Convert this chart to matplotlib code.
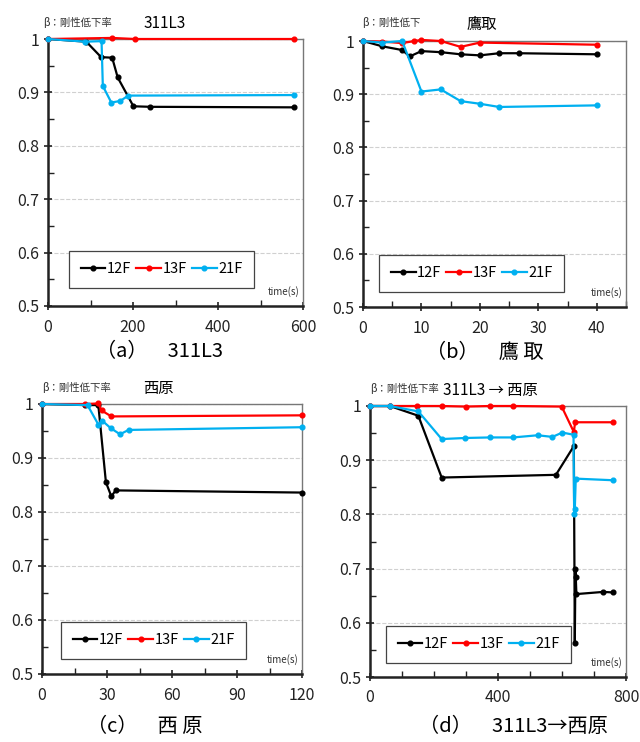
import matplotlib
matplotlib.use('Agg')
import matplotlib.pyplot as plt
from matplotlib.ticker import MultipleLocator

plt.rcParams['font.family'] = ['Noto Sans CJK JP', 'DejaVu Sans']

# (a) 311L3
a_t12 = [0, 90, 125, 151, 164, 201, 241, 578]
a_b12 = [1.0, 0.995, 0.966, 0.965, 0.928, 0.874, 0.873, 0.872]
a_t13 = [0, 151, 205, 578]
a_b13 = [1.0, 1.002, 1.0, 1.0]
a_t21 = [0, 88, 126, 129, 149, 170, 189, 578]
a_b21 = [1.0, 0.995, 0.996, 0.912, 0.881, 0.884, 0.894, 0.895]

# (b) 鷹取
b_t12 = [0, 3.3, 6.7, 8.0, 10, 13.3, 16.7, 20, 23.3, 26.7, 40]
b_b12 = [1.0, 0.990, 0.983, 0.971, 0.981, 0.979, 0.975, 0.973, 0.977, 0.977, 0.975]
b_t13 = [0, 3.3, 6.7, 8.8, 10, 13.3, 16.7, 20, 40]
b_b13 = [1.0, 0.999, 0.996, 1.0, 1.002, 1.0, 0.989, 0.997, 0.993]
b_t21 = [0, 3.3, 6.7, 10, 13.3, 16.7, 20, 23.3, 40]
b_b21 = [1.0, 0.997, 1.0, 0.905, 0.909, 0.887, 0.882, 0.876, 0.879]

# (c) 西原
c_t12 = [0, 20, 26, 29.5, 32, 34, 120]
c_b12 = [1.0, 0.998, 0.998, 0.855, 0.829, 0.840, 0.836]
c_t13 = [0, 20, 26, 27.5, 32, 120]
c_b13 = [1.0, 1.0, 1.001, 0.988, 0.977, 0.979]
c_t21 = [0, 21, 26, 27.8, 31.8, 36, 40, 120]
c_b21 = [1.0, 0.998, 0.962, 0.969, 0.955, 0.944, 0.952, 0.957]

# (d) 311L3→西原
d_t12 = [0, 62, 151, 224, 581, 637, 640, 642, 643, 645, 729, 760]
d_b12 = [1.0, 1.0, 0.982, 0.868, 0.873, 0.926, 0.563, 0.700, 0.685, 0.653, 0.657, 0.656]
d_t13 = [0, 62, 148, 224, 300, 375, 448, 599, 637, 641, 760]
d_b13 = [1.0, 1.0, 1.0, 1.0, 0.999, 1.0, 1.0, 0.999, 0.952, 0.970, 0.970]
d_t21 = [0, 62, 151, 224, 298, 375, 448, 524, 570, 601, 636, 638, 640, 643, 760]
d_b21 = [1.0, 1.0, 0.990, 0.939, 0.941, 0.942, 0.942, 0.946, 0.943, 0.951, 0.947, 0.800, 0.810, 0.866, 0.863]

labels = ['12F', '13F', '21F']
colors = ['black', '#ff0000', '#00b0f0']

W, H = 640, 742
fig = plt.figure(figsize=(W / 100, H / 100), dpi=100)


def make_axes(l, r, t, b):
    return fig.add_axes([l / W, 1 - b / H, (r - l) / W, (b - t) / H])


panels = [
    dict(box=(48, 303, 39, 306), xlim=(0, 600), major=200, minor=100,
         series=[(a_t12, a_b12), (a_t13, a_b13), (a_t21, a_b21)],
         title='311L3', tx=165, ty=24, beta='β：剛性低下率', bx=43, by=22,
         cap='（a）　311L3', cx=160, cy=352, leg=(0.082, 0.067)),
    dict(box=(363, 626, 41, 307), xlim=(0, 45), major=10, minor=5,
         series=[(b_t12, b_b12), (b_t13, b_b13), (b_t21, b_b21)],
         title='鷹取', tx=482, ty=24, beta='β：剛性低下', bx=362, by=22,
         cap='（b）　鷹 取', cx=485, cy=352, leg=(0.061, 0.056)),
    dict(box=(42, 302, 404, 674), xlim=(0, 120), major=30, minor=15,
         series=[(c_t12, c_b12), (c_t13, c_b13), (c_t21, c_b21)],
         title='西原', tx=158, ty=389, beta='β：剛性低下率', bx=42, by=387,
         cap='（c）　西 原', cx=145, cy=727, leg=(0.073, 0.056)),
    dict(box=(370, 626, 406, 677), xlim=(0, 800), major=400, minor=100,
         series=[(d_t12, d_b12), (d_t13, d_b13), (d_t21, d_b21)],
         title='311L3 → 西原', tx=490, ty=391, beta='β：剛性低下率', bx=370, by=389,
         cap='（d）　311L3→西原', cx=513, cy=727, leg=(0.0625, 0.052)),
]

for p in panels:
    ax = make_axes(*p['box'])
    for (t, b), lab, col in zip(p['series'], labels, colors):
        ax.plot(t, b, '-o', color=col, lw=1.6, ms=3.4, label=lab, clip_on=False, zorder=3)
    ax.set_xlim(*p['xlim'])
    ax.set_ylim(0.5, 1.0)
    ax.xaxis.set_major_locator(MultipleLocator(p['major']))
    ax.xaxis.set_minor_locator(MultipleLocator(p['minor']))
    ax.yaxis.set_major_locator(MultipleLocator(0.1))
    ax.yaxis.set_minor_locator(MultipleLocator(0.05))
    ax.set_yticks([0.5, 0.6, 0.7, 0.8, 0.9, 1.0])
    ax.set_yticklabels(['0.5', '0.6', '0.7', '0.8', '0.9', '1'])
    ax.tick_params(which='major', direction='inout', length=6, width=1.2,
                   labelsize=11.5, colors='#222222')
    ax.tick_params(which='minor', direction='in', length=4, width=1.0, colors='#222222')
    ax.tick_params(axis='x', which='major', pad=6)
    ax.grid(axis='y', which='major', ls='--', color='#d0d0d0', lw=0.8)
    for s in ['left', 'bottom']:
        ax.spines[s].set_color('#222222')
        ax.spines[s].set_linewidth(1.8)
    for s in ['top', 'right']:
        ax.spines[s].set_color('#777777')
        ax.spines[s].set_linewidth(1.0)
    ax.set_axisbelow(True)
    ax.text(0.985, 0.035, 'time(s)', transform=ax.transAxes, ha='right', va='bottom',
            fontsize=7, color='#333333')
    leg = ax.legend(loc='lower left', bbox_to_anchor=p['leg'], ncol=3,
                    fontsize=10.5, frameon=True, fancybox=False, framealpha=1,
                    handlelength=1.7, handletextpad=0.1, columnspacing=0.35,
                    borderaxespad=0, borderpad=0.8)
    leg.get_frame().set_edgecolor('#444444')
    leg.get_frame().set_linewidth(0.9)
    leg.set_zorder(2.8)
    fig.text(p['tx'] / W, 1 - p['ty'] / H, p['title'], ha='center', va='center', fontsize=11)
    fig.text(p['bx'] / W, 1 - p['by'] / H, p['beta'], ha='left', va='center', fontsize=7.5,
             color='#333333')
    fig.text(p['cx'] / W, 1 - p['cy'] / H, p['cap'], ha='center', va='center', fontsize=14.5)

fig.savefig('out.png', dpi=100)
